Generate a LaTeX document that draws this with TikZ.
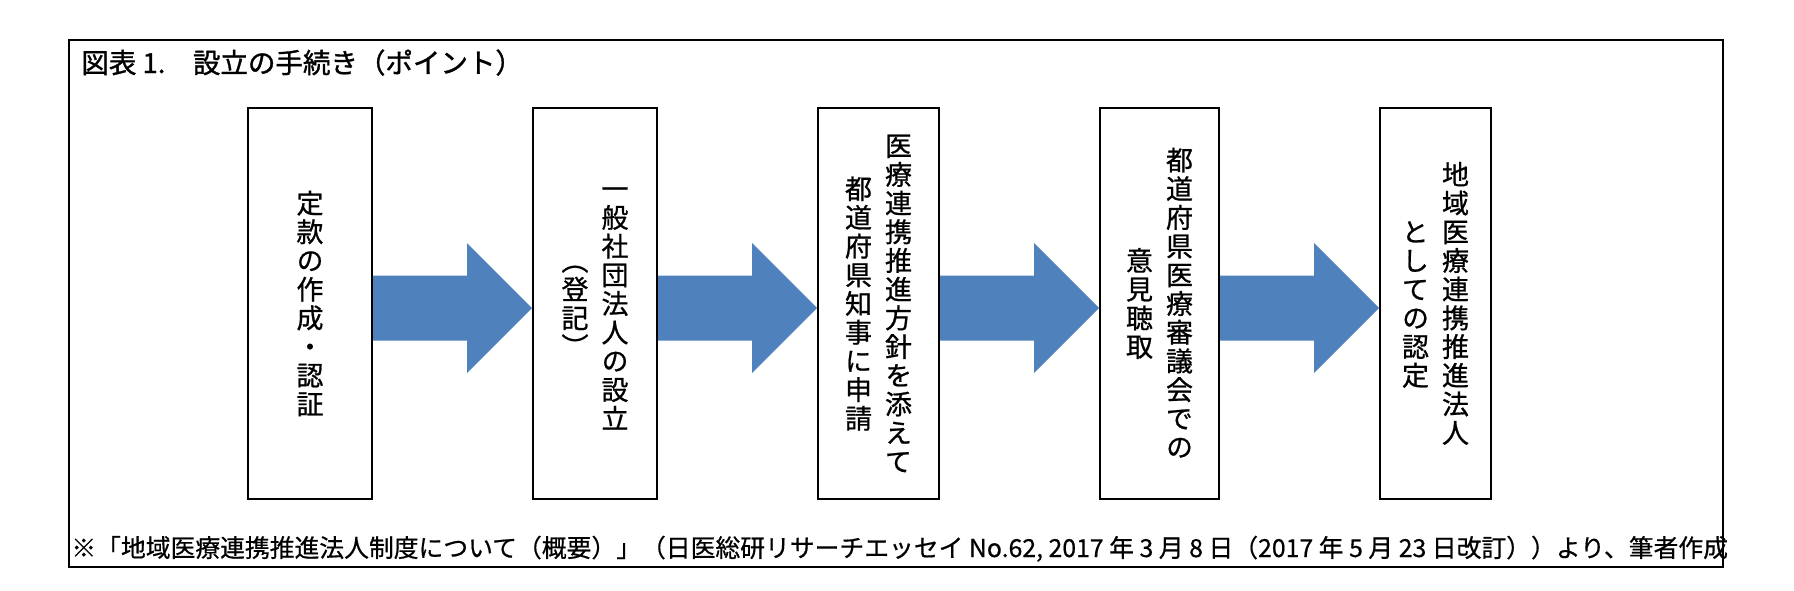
\documentclass[tikz,border=0pt]{standalone}
\usepackage{fontspec}
\usepackage{tikz}
\usetikzlibrary{calc, backgrounds}
\setmainfont{Noto Sans CJK JP}
\newfontfamily\tatefont[RawFeature=+vert, FakeBold=0.8]{Noto Sans CJK JP}
\newfontfamily\notefont[FakeBold=0.6]{Noto Sans CJK JP}
\newfontfamily\titlefont[FakeBold=1.2]{Noto Sans CJK JP}
\definecolor{cArrow}{RGB}{79,129,189}
% vertical (tate) text: one character per cell
\newlength\tatepitch
\setlength\tatepitch{14.35pt}
\def\tateend{TATEEND}
\def\tate#1{\vbox{\offinterlineskip\tateloop#1\tateend}}
\def\tateloop#1{\ifx#1\tateend\else\hbox to 1em{\vrule height\dimexpr.38em+.5\tatepitch\relax depth\dimexpr.5\tatepitch-.38em\relax width 0pt\hss#1\hss}\expandafter\tateloop\fi}
\newcommand\tatecols[2]{$\vcenter{\tate{#1}}$\hspace{6.5pt}$\vcenter{\tate{#2}}$}
\tikzset{
	stepbox/.style  ={rectangle, draw=black, line width=1pt, minimum height=195.5pt, inner sep=0pt, font=\tatefont\fontsize{13.5pt}{14pt}\selectfont},
	blockarrow/.style={fill=cArrow},
	frame/.style    ={draw=black, line width=1pt},
}
\begin{document}
\begin{tikzpicture}[x=0.5pt, y=-0.5pt]
	\useasboundingbox (0,0) rectangle (1794,590);
	% outer frame
	\draw[frame] (69,40) rectangle (1723,567);
	\node[anchor=base west, inner sep=0pt, font=\titlefont\fontsize{13.75pt}{16pt}\selectfont] (title) at (81,73) {図表 1.　設立の手続き（ポイント）};
	% steps
	\node[stepbox, minimum width=62pt] (s1) at (310,303.5) {$\vcenter{\tate{定款の作成・認証}}$};
	\node[stepbox, minimum width=62pt] (s2) at (595,303.5) {\tatecols{（登記）}{一般社団法人の設立}};
	\node[stepbox, minimum width=60.5pt] (s3) at (878.5,303.5) {\tatecols{都道府県知事に申請}{医療連携推進方針を添えて}};
	\node[stepbox, minimum width=59.5pt] (s4) at (1159.5,303.5) {\tatecols{意見聴取}{都道府県医療審議会での}};
	\node[stepbox, minimum width=55.5pt] (s5) at (1435.5,303.5) {\tatecols{としての認定}{地域医療連携推進法人}};
	% block arrows
	\begin{scope}[on background layer]
		\foreach \a/\b in {s1/s2,s2/s3,s3/s4,s4/s5}
			\fill[blockarrow] ($(\a.east)+(0,-28)$) -- ($(\b.west)+(-65,-28)$) -- ($(\b.west)+(-65,-60.5)$) -- ($(\b.west)+(0,4.5)$)
				-- ($(\b.west)+(-65,69.5)$) -- ($(\b.west)+(-65,37)$) -- ($(\a.east)+(0,37)$) -- cycle;
	\end{scope}
	% source note
	\node[anchor=base west, inner sep=0pt, font=\notefont\fontsize{12.4pt}{14pt}\selectfont] (note) at (71,557) {※「地域医療連携推進法人制度について（概要）」（日医総研リサーチエッセイ No.62, 2017 年 3 月 8 日（2017 年 5 月 23 日改訂））より、筆者作成};
\end{tikzpicture}
\end{document}
